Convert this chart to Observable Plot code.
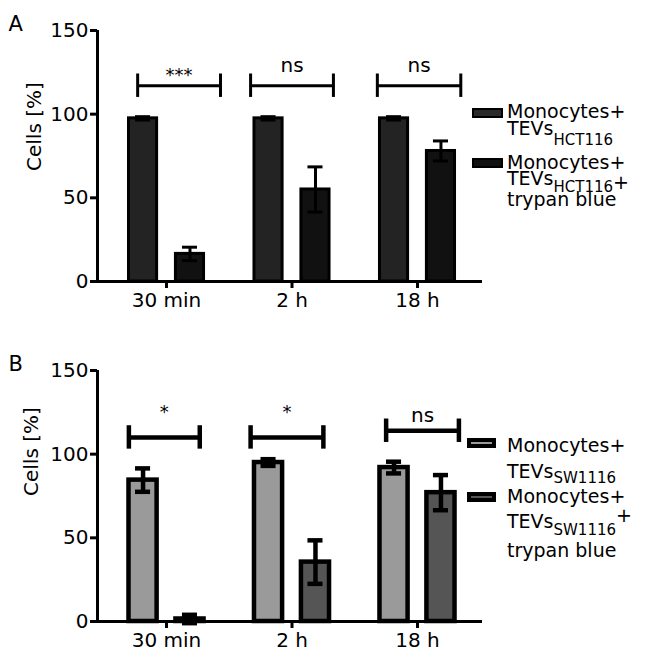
<!DOCTYPE html>
<html><head><meta charset="utf-8">
<script src="https://cdn.jsdelivr.net/npm/d3@7"></script>
<script src="https://cdn.jsdelivr.net/npm/@observablehq/plot@0.6"></script>
<style>
body{margin:0;background:#fff;font-family:"DejaVu Sans",sans-serif;}
#chart{width:646px;}
#chart svg{display:block;}
</style></head><body><div id="chart"></div>
<script>
// ---- data ----
const groups = ["30 min", "2 h", "18 h"];
const yTicks = [0, 50, 100, 150];

// Panel A (HCT116)
const A_control = [97.5, 97.5, 97.5];
const A_control_err = [1, 1, 1];
const A_trypan = [16.5, 55, 78];
const A_trypan_err = [4, 13.5, 6];
const A_sig = ["***", "ns", "ns"];
const A_sig_x1 = [-0.23, 0.67, 1.68];
const A_sig_x2 = [0.43, 1.33, 2.345];
const A_sig_y = [117, 117, 117];
const A_sig_label_y = [120, 125, 125];

// Panel B (SW1116)
const B_control = [84.5, 95, 92];
const B_control_err = [7, 2, 3.5];
const B_trypan = [1.5, 35.5, 77];
const B_trypan_err = [2.5, 13, 10.5];
const B_sig = ["*", "*", "ns"];
const B_sig_x1 = [-0.30, 0.67, 1.75];
const B_sig_x2 = [0.265, 1.25, 2.33];
const B_sig_y = [110, 110, 114];
const B_sig_label_y = [121.5, 121.5, 119];

// ---- layout constants ----
const X_DOMAIN = [-0.55, 2.518];
const OFF = 0.187, HW = 0.112, CAP = 0.06;

function panel(cfg) {
  const ctrl = groups.map((g, i) => ({i, v: cfg.ctrl[i], e: cfg.ctrlErr[i], c: -OFF}));
  const tryp = groups.map((g, i) => ({i, v: cfg.tryp[i], e: cfg.trypErr[i], c: OFF}));
  const bars = ctrl.concat(tryp);
  const br = groups.map((g, i) => ({t: cfg.sig[i], x1: cfg.sx1[i], x2: cfg.sx2[i], y: cfg.sy[i], ly: cfg.sly[i]}));
  const ends = br.flatMap(d => [{x: d.x1, y: d.y}, {x: d.x2, y: d.y}]);
  const sw = cfg.sw;
  const plot = Plot.plot({
    width: 646, height: cfg.height,
    marginLeft: 97, marginRight: 164, marginTop: cfg.mt, marginBottom: cfg.mb,
    style: {fontFamily: "DejaVu Sans", fontSize: "20px", color: "#000", background: "#fff", overflow: "visible"},
    x: {type: "linear", domain: X_DOMAIN},
    y: {domain: [0, 150]},
    marks: [
      Plot.rectY(ctrl, {x1: d => d.i + d.c - HW, x2: d => d.i + d.c + HW, y1: 0, y2: "v", fill: cfg.fill1, stroke: "#000", strokeWidth: sw}),
      Plot.rectY(tryp, {x1: d => d.i + d.c - HW, x2: d => d.i + d.c + HW, y1: 0, y2: "v", fill: cfg.fill2, stroke: "#000", strokeWidth: sw}),
      Plot.ruleX(bars, {x: d => d.i + d.c, y1: d => d.v - d.e, y2: d => d.v + d.e, stroke: "#000", strokeWidth: sw}),
      Plot.ruleY(bars, {y: d => d.v + d.e, x1: d => d.i + d.c - CAP, x2: d => d.i + d.c + CAP, stroke: "#000", strokeWidth: sw}),
      Plot.ruleY(bars, {y: d => d.v - d.e, x1: d => d.i + d.c - CAP, x2: d => d.i + d.c + CAP, stroke: "#000", strokeWidth: sw}),
      Plot.ruleY(br, {y: "y", x1: "x1", x2: "x2", stroke: "#000", strokeWidth: sw}),
      Plot.ruleX(ends, {x: "x", y1: d => d.y - 7, y2: d => d.y + 7, stroke: "#000", strokeWidth: sw}),
      Plot.text(br, {x: d => (d.x1 + d.x2) / 2, y: "ly", text: "t", lineAnchor: "bottom",
        fontSize: d => d.t.includes("*") ? 18 : 20, fill: "#000"}),
      Plot.ruleY([0], {stroke: "#000", strokeWidth: 3}),
      Plot.ruleX([X_DOMAIN[0]], {y1: 0, y2: 150, stroke: "#000", strokeWidth: 3}),
      Plot.axisY({ticks: yTicks, tickSize: 7, tickPadding: 2, strokeWidth: 3, fontSize: 20, label: null}),
      Plot.axisX({ticks: [0, 1, 2], tickFormat: i => groups[i], tickSize: 7, tickPadding: 4, strokeWidth: 3, fontSize: 20, label: null}),
      Plot.text(["Cells [%]"], {frameAnchor: "left", rotate: -90, dx: cfg.ylabDx, dy: cfg.ylabDy, fontSize: 20, fill: "#000"}),
      Plot.text([cfg.letter], {frameAnchor: "top-left", dx: -89, textAnchor: "start", lineAnchor: "bottom", fontSize: 21, fill: "#000"})
    ]
  });
  return plot;
}

function legend(svg, L) {
  const g = d3.select(svg).append("g")
    .attr("font-family", "DejaVu Sans").attr("font-size", 19).attr("fill", "#000")
    .attr("text-anchor", "start");
  L.items.forEach((it, k) => {
    g.append("rect").attr("x", it.box[0]).attr("y", it.box[1]).attr("width", it.box[2]).attr("height", it.box[3])
      .attr("fill", it.fill).attr("stroke", "#000").attr("stroke-width", L.sw);
    g.append("text").attr("x", 507).attr("y", it.b1).text("Monocytes+");
    const t = g.append("text").attr("x", 507).attr("y", it.b2);
    t.append("tspan").text("TEVs");
    t.append("tspan").attr("font-size", 15).attr("dy", it.sub).text(L.cell);
    if (it.plus) {
      t.append("tspan").attr("dy", it.plusDy).text("+");
      g.append("text").attr("x", 507).attr("y", it.b3).text("trypan blue");
    }
  });
}

const root = document.getElementById("chart");

const svgA = panel({letter: "A", height: 330, mt: 30, mb: 49, sw: 3,
  ctrl: A_control, ctrlErr: A_control_err, tryp: A_trypan, trypErr: A_trypan_err,
  sig: A_sig, sx1: A_sig_x1, sx2: A_sig_x2, sy: A_sig_y, sly: A_sig_label_y,
  fill1: "#232323", fill2: "#111111", ylabDx: -63, ylabDy: 15});
legend(svgA, {sw: 2, cell: "HCT116", items: [
  {box: [473, 109, 29, 8], fill: "#2a2a2a", b1: 118, b2: 135, sub: 10},
  {box: [473, 159, 29, 8], fill: "#111", b1: 169, b2: 185, sub: 7, plus: true, plusDy: -3.5, b3: 206}
]});
root.appendChild(svgA);

const svgB = panel({letter: "B", height: 333, mt: 40, mb: 42, sw: 4.5,
  ctrl: B_control, ctrlErr: B_control_err, tryp: B_trypan, trypErr: B_trypan_err,
  sig: B_sig, sx1: B_sig_x1, sx2: B_sig_x2, sy: B_sig_y, sly: B_sig_label_y,
  fill1: "#9a9a9a", fill2: "#555555", ylabDx: -66, ylabDy: 0});
legend(svgB, {sw: 4, cell: "SW1116", items: [
  {box: [469, 110, 25, 6], fill: "#9a9a9a", b1: 122, b2: 148, sub: 5},
  {box: [469, 164, 25, 6], fill: "#555", b1: 173, b2: 198, sub: 7, plus: true, plusDy: -13.5, b3: 227}
]});
root.appendChild(svgB);
</script>
</body></html>
